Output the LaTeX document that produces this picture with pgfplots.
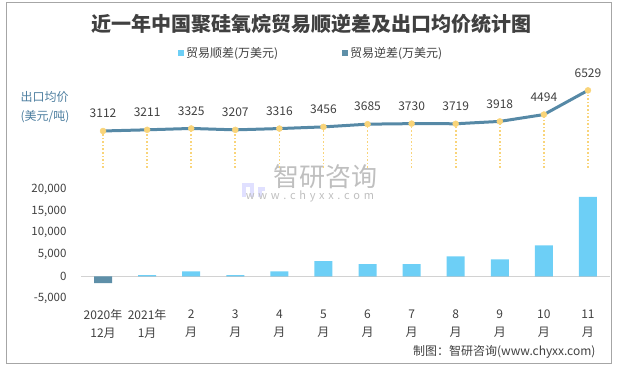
\documentclass[border=0pt]{standalone}
\usepackage{pgfplots}
\pgfplotsset{compat=1.18}
\usepackage{fontspec}
\setmainfont{Noto Sans CJK SC}
\definecolor{posbar}{HTML}{6DCFF6}
\definecolor{negbar}{HTML}{5E8FA8}
\definecolor{linec}{HTML}{5689A6}
\definecolor{dotc}{HTML}{F9D479}
\definecolor{txt}{HTML}{404040}
\definecolor{lab}{HTML}{4E7FA0}
\definecolor{frame}{HTML}{A6A6A6}
\begin{document}
\begin{tikzpicture}
\useasboundingbox (0bp,0bp) rectangle (622bp,367bp);
\draw[frame, line width=1bp] (6.5bp,3bp) rectangle (611bp,364bp);
% title
\node[font=\fontsize{20bp}{24bp}\selectfont\bfseries, text=txt] at (311bp,343bp) {近一年中国聚硅氧烷贸易顺逆差及出口均价统计图};
% left label
\node[anchor=west, align=left, text=lab, font=\fontsize{12bp}{19bp}\selectfont] at (17bp,260bp) {出口均价\\(美元/吨)};
% watermark
\fill[blue!12] (242bp,180bp) rectangle (254bp,184bp);
\fill[blue!12] (242bp,170bp) rectangle (246bp,184bp);
\fill[blue!12] (250bp,170bp) rectangle (254bp,180bp);
\fill[blue!12] (258bp,176bp) rectangle (265bp,180bp);
\fill[blue!12] (258bp,170bp) rectangle (262bp,176bp);
\node[text=gray!50, font=\fontsize{26bp}{28bp}\selectfont] at (325bp,190bp) {智研咨询};
\node[text=gray!50, font=\fontsize{11bp}{12bp}\selectfont] at (310bp,171bp) {w\,\,w\,\,w\,\,.\,\,c\,\,h\,\,y\,\,x\,\,x\,\,.\,\,c\,\,o\,\,m};
% source
\node[anchor=east, text=txt, font=\fontsize{12bp}{14bp}\selectfont] at (599bp,15bp) {制图：智研咨询(www.chyxx.com)};

% bar axis
\begin{axis}[
  at={(81bp,69bp)}, anchor=south west,
  width=529bp, height=108.5bp, scale only axis,
  xmin=-0.5, xmax=11.5, ymin=-5000, ymax=20000,
  axis line style={draw=none},
  major tick length=0pt,
  ybar, bar width=18bp,
  xtick={0,...,11},
  xticklabels={{2020年\\[3bp]12月},{2021年\\[3bp]1月},{2\\[3bp]月},{3\\[3bp]月},{4\\[3bp]月},{5\\[3bp]月},{6\\[3bp]月},{7\\[3bp]月},{8\\[3bp]月},{9\\[3bp]月},{10\\[3bp]月},{11\\[3bp]月}},
  xticklabel style={align=center, text=txt, font=\fontsize{12bp}{15bp}\selectfont, yshift=-8bp},
  ytick={-5000,0,5000,10000,15000,20000},
  scaled y ticks=false,
  yticklabel style={text=txt, font=\fontsize{11.5bp}{13bp}\selectfont, xshift=-11bp},
  /pgf/number format/1000 sep={,},
  /pgf/number format/assume math mode=true,
  legend style={at={(0.435,2.258)}, anchor=center, draw=none, fill=none,
    legend columns=2, font=\fontsize{12bp}{14bp}\selectfont, text=txt,
    /tikz/every even column/.append style={column sep=62bp}},
  legend image code/.code={\fill[#1] (0bp,-3bp) rectangle (6bp,3bp);},
]
\draw[gray!35, line width=1bp] (axis cs:-0.5,0) -- (axis cs:11.5,0);
\addplot[fill=posbar, draw=none, bar shift=0pt] coordinates {
 (0,0) (1,280) (2,1150) (3,250) (4,1150) (5,3500) (6,2800) (7,2800) (8,4600) (9,3900) (10,7150) (11,18300)};
\addlegendentry{贸易顺差(万美元)}
\addplot[fill=negbar, draw=none, bar shift=0pt] coordinates {
 (0,-1600) (1,0) (2,0) (3,0) (4,0) (5,0) (6,0) (7,0) (8,0) (9,0) (10,0) (11,0)};
\addlegendentry{贸易逆差(万美元)}
\end{axis}

% price line axis
\begin{axis}[
  at={(81bp,199bp)}, anchor=south west,
  width=529bp, height=88bp, scale only axis,
  xmin=-0.5, xmax=11.5, ymin=0, ymax=7400,
  hide axis, clip=false,
  /pgf/number format/1000 sep={},
  /pgf/number format/assume math mode=true,
]
\addplot[ycomb, dotc, dotted, line width=1.6bp] table {
x y
0 3112
1 3211
2 3325
3 3207
4 3316
5 3456
6 3685
7 3730
8 3719
9 3918
10 4494
11 6529
};
\addplot[linec, line width=3bp, no markers] table {
x y
0 3112
1 3211
2 3325
3 3207
4 3316
5 3456
6 3685
7 3730
8 3719
9 3918
10 4494
11 6529
};
\addplot[only marks, mark=*, mark size=3bp, dotc,
  nodes near coords,
  nodes near coords style={anchor=center, yshift=17.5bp, text=txt, font=\fontsize{12bp}{14bp}\selectfont}] table {
x y
0 3112
1 3211
2 3325
3 3207
4 3316
5 3456
6 3685
7 3730
8 3719
9 3918
10 4494
11 6529
};
\end{axis}
\end{tikzpicture}
\end{document}
